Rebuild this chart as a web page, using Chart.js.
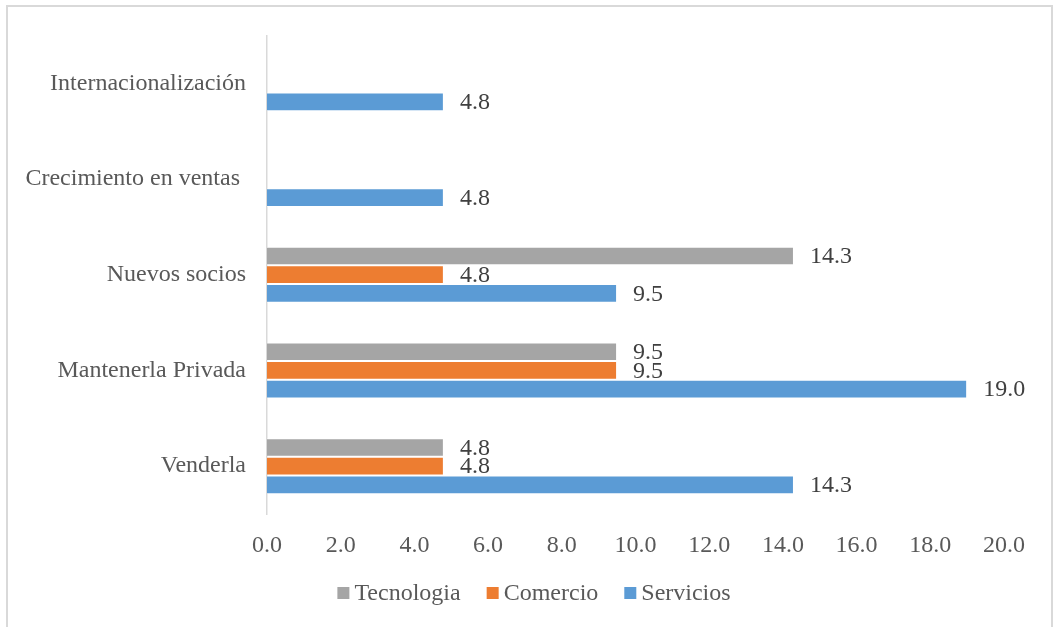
<!DOCTYPE html>
<html>
<head>
<meta charset="utf-8">
<script src="https://cdn.jsdelivr.net/npm/chart.js@4/dist/chart.umd.min.js"></script>
<style>
  html, body { margin: 0; padding: 0; background: #fff; }
  #wrap { position: relative; width: 1056px; height: 627px; overflow: hidden; }
  #frame { position: absolute; left: 6px; top: 5px; width: 1047px; height: 660px; border: 2px solid #d9d9d9; box-sizing: border-box; }
  #c { position: absolute; left: 0; top: 0; }
</style>
</head>
<body>
<div id="wrap">
  <div id="frame"></div>
  <canvas id="c" width="1056" height="627"></canvas>
</div>
<script>
// categories, top to bottom
var categories = ["Internacionalización", "Crecimiento en ventas ", "Nuevos socios", "Mantenerla Privada", "Venderla"];
var tecnologia = [null, null, 14.3, 9.5, 4.8];
var comercio = [null, null, 4.8, 9.5, 4.8];
var servicios = [4.8, 4.8, 9.5, 19.0, 14.3];
var xTicks = [0, 2, 4, 6, 8, 10, 12, 14, 16, 18, 20];

var font = { family: "'Liberation Serif', 'Times New Roman', serif", size: 24 };
var textColor = "#595959";

var valueLabels = {
    id: "valueLabels",
    afterDatasetsDraw: function(chart) {
        var ctx = chart.ctx;
        ctx.save();
        ctx.font = font.size + "px " + font.family;
        ctx.fillStyle = "#404040";
        ctx.textAlign = "left";
        ctx.textBaseline = "middle";
        chart.data.datasets.forEach(function(ds, i) {
            var meta = chart.getDatasetMeta(i);
            meta.data.forEach(function(bar, j) {
                var v = ds.data[j];
                if (v === null || v === undefined) return;
                ctx.fillText(v.toFixed(1), bar.x + 16, bar.y + 1);
            });
        });
        ctx.restore();
    }
};

// legend drawn by hand so the box-to-text gap matches the original
var bottomLegend = {
    id: "bottomLegend",
    afterDraw: function(chart) {
        var ctx = chart.ctx;
        var box = 12, gap = 5, spacing = 26, cy = 593;
        ctx.save();
        ctx.font = font.size + "px " + font.family;
        ctx.textAlign = "left";
        ctx.textBaseline = "middle";
        var items = chart.data.datasets.map(function(ds) {
            return { text: ds.label, color: ds.backgroundColor, w: ctx.measureText(ds.label).width };
        });
        var total = 0;
        items.forEach(function(it, i) { total += box + gap + it.w + (i ? spacing : 0); });
        var x = 534 - total / 2;
        items.forEach(function(it) {
            ctx.fillStyle = it.color;
            ctx.fillRect(x, cy - box / 2, box, box);
            ctx.fillStyle = textColor;
            ctx.fillText(it.text, x + box + gap, cy + 1);
            x += box + gap + it.w + spacing;
        });
        ctx.restore();
    }
};

var chartData = {
    labels: categories,
    datasets: [
        { label: "Tecnologia", data: tecnologia, backgroundColor: "#a5a5a5" },
        { label: "Comercio", data: comercio, backgroundColor: "#ed7d31" },
        { label: "Servicios", data: servicios, backgroundColor: "#5b9bd5" }
    ]
};
chartData.datasets.forEach(function(ds) {
    ds.borderColor = "rgba(255,255,255,0.6)";
    ds.borderWidth = 1;
    ds.categoryPercentage = 0.585;
    ds.barPercentage = 1.0;
});

var ctx = document.getElementById("c").getContext("2d");
var myChart = new Chart(ctx, {
    type: "bar",
    data: chartData,
    plugins: [valueLabels, bottomLegend],
    options: {
        indexAxis: "y",
        responsive: false,
        animation: false,
        layout: { padding: { top: 35, right: 52, bottom: 63, left: 0 } },
        scales: {
            x: {
                min: 0,
                max: 20,
                afterBuildTicks: function(scale) {
                    scale.ticks = xTicks.map(function(v) { return { value: v }; });
                },
                afterFit: function(scale) { scale.height = 50; },
                grid: { display: false, drawTicks: false },
                border: { display: false },
                ticks: {
                    font: font,
                    color: textColor,
                    padding: 17,
                    maxRotation: 0,
                    callback: function(v) { return Number(v).toFixed(1); }
                }
            },
            y: {
                afterFit: function(scale) { scale.width = 267; },
                grid: { display: false, drawTicks: false },
                border: { display: true, color: "#d9d9d9", width: 1.5 },
                ticks: { font: font, color: textColor, padding: 21 }
            }
        },
        plugins: {
            legend: { display: false },
            tooltip: { enabled: false }
        }
    }
});
</script>
</body>
</html>
